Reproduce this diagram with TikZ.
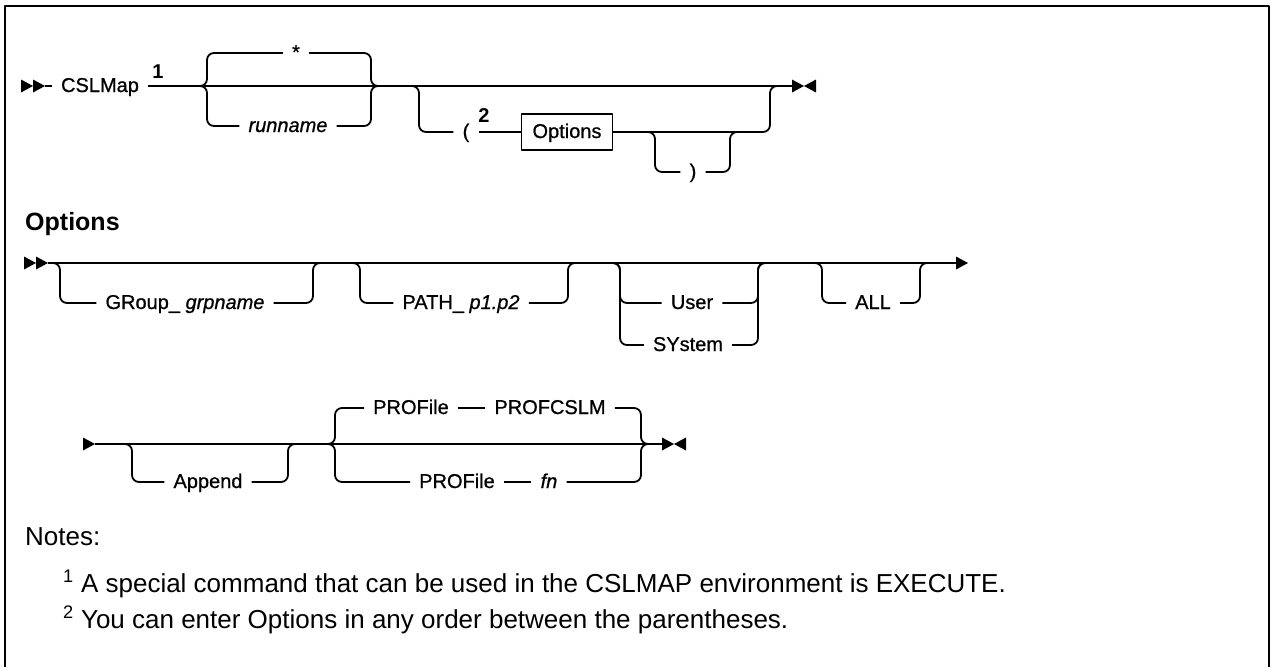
\documentclass[tikz,border=0pt]{standalone}
\usepackage{fontspec}
\setmainfont{Liberation Sans}
\newfontfamily\railfont[FakeBold=0.8]{Liberation Sans}
\usepackage{tikz}

\tikzset{
  rail/.style={line width=1.8pt},
  branch/.style={rail, rounded corners=7pt},
  lbl/.style={inner xsep=9pt, inner ysep=0pt, text height=15pt, text depth=3pt,
    font=\railfont\fontsize{20}{24}\selectfont},
  supl/.style={inner sep=0pt, font=\bfseries\fontsize{20}{24}\selectfont},
  optbox/.style={draw, line width=1.3pt, minimum height=36pt, inner xsep=11pt,
    text height=15pt, text depth=3pt, font=\railfont\fontsize{20}{24}\selectfont},
  head/.style={anchor=west, inner sep=0pt, text height=18pt, text depth=5pt,
    font=\bfseries\fontsize{25}{30}\selectfont},
  note/.style={anchor=west, inner sep=0pt, text height=18pt, text depth=5pt,
    font=\fontsize{26}{31}\selectfont}
}

\begin{document}
\begin{tikzpicture}[x=1pt, y=-1pt, line join=round]

% Cornice
\useasboundingbox (0,0) rectangle (1273,667);
\draw[line width=2pt] (5,667) -- (5,6) -- (1269,6) -- (1269,667);

% Riga 1: CSLMap
\fill (21,79.5) -- (33,86) -- (21,92.5) -- cycle;
\fill (33,79.5) -- (45,86) -- (33,92.5) -- cycle;
\coordinate (s1) at (45,86);
\node[lbl] (cslmap) at (100,86) {CSLMap};
\node[supl] (n1) at (158,72) {1};

\coordinate (runL) at (200,86);
\coordinate (runR) at (378,86);
\node[lbl] (star) at (296,53) {*};
\node[lbl] (runname) at (288,126) {\itshape runname};

\coordinate (parL) at (412,86);
\coordinate (parR) at (777,86);
\node[lbl] (lpar) at (466,132) {(};
\node[supl] (n2) at (484,116) {2};
\node[optbox] (opts) at (567,132) {Options};
\coordinate (clsL) at (648,132);
\coordinate (clsR) at (737,132);
\node[lbl] (rpar) at (693,172) {)};
\coordinate (e1) at (792,86);

\draw[rail] (s1) -- (cslmap);
\draw[rail] (cslmap) -- (runL) -- (runR) -- (parL) -- (parR) -- (e1);
\draw[branch] (runL) -- ++(7,0) |- (star);
\draw[branch] (star) -| ([xshift=-7pt]runR) -- (runR);
\draw[branch] (runL) -- ++(7,0) |- (runname);
\draw[branch] (runname) -| ([xshift=-7pt]runR) -- (runR);

\draw[branch] (parL) -- ++(7,0) |- (lpar);
\draw[rail] (lpar) -- (opts);
\draw[rail] (opts) -- (clsL) -- (clsR);
\draw[branch] (clsL) -- ++(7,0) |- (rpar);
\draw[branch] (rpar) -| ([xshift=-7pt]clsR) -- (clsR);
\draw[branch] (clsR) -| ([xshift=-7pt]parR) -- (parR);

% Fine riga 1
\fill (792,79.5) -- (804,86) -- (792,92.5) -- cycle;
\fill (816,79.5) -- (804,86) -- (816,92.5) -- cycle;

% Riga 2: Options
\node[head] (hdr) at (25,223.5) {Options};
\fill (24,256.5) -- (36,263) -- (24,269.5) -- cycle;
\fill (36,256.5) -- (48,263) -- (36,269.5) -- cycle;
\coordinate (s2) at (48,263);
\coordinate (grpL) at (53,263);
\coordinate (grpR) at (320,263);
\coordinate (pathL) at (353,263);
\coordinate (pathR) at (575,263);
\coordinate (usrL) at (613,263);
\coordinate (usrR) at (765,263);
\coordinate (allL) at (815,263);
\coordinate (allR) at (927,263);
\coordinate (e2) at (956,263);

\node[lbl] (grp) at (185,303) {GRoup\_ \textit{grpname}};
\node[lbl] (path) at (461,303) {PATH\_ \textit{p1.p2}};
\node[lbl] (user) at (692,303) {User};
\node[lbl] (system) at (688,345) {SYstem};
\node[lbl] (all) at (873,303) {ALL};

\draw[rail] (s2) -- (grpL) -- (grpR) -- (pathL) -- (pathR) -- (usrL) -- (usrR)
  -- (allL) -- (allR) -- (e2);
\fill (956,256.5) -- (968,263) -- (956,269.5) -- cycle;

\draw[branch] (grpL) -- ++(7,0) |- (grp);
\draw[branch] (grp) -| ([xshift=-7pt]grpR) -- (grpR);
\draw[branch] (pathL) -- ++(7,0) |- (path);
\draw[branch] (path) -| ([xshift=-7pt]pathR) -- (pathR);
\draw[branch] (usrL) -- ++(7,0) |- (user);
\draw[branch] (user) -| ([xshift=-7pt]usrR) -- (usrR);
\draw[branch] (usrL) -- ++(7,0) |- (system);
\draw[branch] (system) -| ([xshift=-7pt]usrR) -- (usrR);
\draw[branch] (allL) -- ++(7,0) |- (all);
\draw[branch] (all) -| ([xshift=-7pt]allR) -- (allR);

% Riga 3
\fill (83,437.5) -- (95,444) -- (83,450.5) -- cycle;
\coordinate (s3) at (95,444);
\coordinate (appL) at (125,444);
\coordinate (appR) at (295,444);
\coordinate (proL) at (328,444);
\coordinate (proR) at (648,444);
\coordinate (e3) at (662,444);

\node[lbl] (append) at (208,482) {Append};
\node[lbl] (prof1) at (411,408) {PROFile};
\node[lbl] (profcslm) at (550,408) {PROFCSLM};
\node[lbl] (prof2) at (457,482) {PROFile};
\node[lbl] (fn) at (549,482) {\textit{fn}};

\draw[rail] (s3) -- (appL) -- (appR) -- (proL) -- (proR) -- (e3);
\draw[branch] (appL) -- ++(7,0) |- (append);
\draw[branch] (append) -| ([xshift=-7pt]appR) -- (appR);
\draw[branch] (proL) -- ++(7,0) |- (prof1);
\draw[rail] (prof1) -- (profcslm);
\draw[branch] (profcslm) -| ([xshift=-7pt]proR) -- (proR);
\draw[branch] (proL) -- ++(7,0) |- (prof2);
\draw[rail] (prof2) -- (fn);
\draw[branch] (fn) -| ([xshift=-7pt]proR) -- (proR);

\fill (662,437.5) -- (674,444) -- (662,450.5) -- cycle;
\fill (686,437.5) -- (674,444) -- (686,450.5) -- cycle;

% Note
\node[note] (notes) at (25,538.5) {Notes:};
\node[note] (note1) at (63,585.5) {\textsuperscript{1} A special command that can be used in the CSLMAP environment is EXECUTE.};
\node[note] (note2) at (63,621.5) {\textsuperscript{2} You can enter Options in any order between the parentheses.};

\end{tikzpicture}
\end{document}
